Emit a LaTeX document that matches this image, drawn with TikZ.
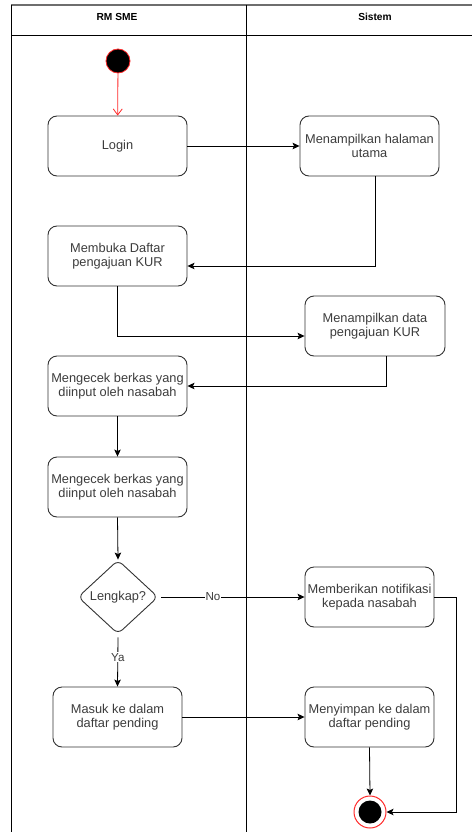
\documentclass[tikz,border=0pt]{standalone}
\usepackage{fontspec}
\setmainfont{Liberation Sans}
\usetikzlibrary{arrows.meta,shapes.geometric,calc}

\definecolor{boxgray}{RGB}{51,51,51}
\definecolor{textgray}{RGB}{60,60,60}
\definecolor{lanegray}{RGB}{110,110,110}
\definecolor{startred}{RGB}{255,40,40}

\begin{document}
\begin{tikzpicture}[x=1pt,y=-1pt,
  act/.style={draw=boxgray, line width=0.9pt, rounded corners=9pt,
    minimum width=139pt, minimum height=60pt, align=center, inner sep=1pt,
    text=textgray, font=\fontsize{12.8}{14.5}\selectfont},
  decide/.style={diamond, draw=boxgray, line width=0.9pt, rounded corners=6pt,
    minimum width=80pt, minimum height=74pt, inner sep=0pt,
    text=textgray, font=\fontsize{12.8}{14.5}\selectfont},
  flow/.style={draw=black, line width=0.8pt,
    -{Stealth[length=7pt,width=6.5pt,inset=1.5pt]}},
  startflow/.style={draw=startred, line width=0.8pt,
    -{Straight Barb[length=6pt,width=9pt]}},
  lanehead/.style={font=\bfseries\fontsize{10.2}{12}\selectfont, text=black},
  flowlabel/.style={fill=white, inner sep=1pt, text=textgray,
    font=\fontsize{11.6}{13}\selectfont}
]
\useasboundingbox (0,0) rectangle (472,832);
\clip (0,0) rectangle (472,832);

% swimlanes
\draw[lanegray, line width=1.6pt] (11,5) -- (472,5);
\draw[black, line width=1pt] (11,5) -- (11,832);
\draw[black, line width=1pt] (246,5) -- (246,832);
\draw[black, line width=1pt] (11,36) -- (472,36);
\node[lanehead] (laneA) at (117,17) {RM SME};
\node[lanehead] (laneB) at (375,17) {Sistem};

% activities
\node[circle, draw=startred, fill=black, line width=0.8pt, minimum size=24pt, inner sep=0pt] (start) at (118,61) {};
\node[act] (login) at (117.5,146) {Login};
\node[act] (halaman) at (369.5,146) {Menampilkan halaman\\utama};
\node[act] (membuka) at (117.5,256) {Membuka Daftar\\pengajuan KUR};
\node[act, minimum width=140pt] (data) at (375,326) {Menampilkan data\\pengajuan KUR};
\node[act] (cek1) at (117.5,386) {Mengecek berkas yang\\diinput oleh nasabah};
\node[act] (cek2) at (117.5,487) {Mengecek berkas yang\\diinput oleh nasabah};
\node[decide] (lengkap) at (118,597) {Lengkap?};
\node[act, minimum width=129pt] (notif) at (369.5,597) {Memberikan notifikasi\\kepada nasabah};
\node[act, minimum width=129pt] (masuk) at (117.5,717) {Masuk ke dalam\\daftar pending};
\node[act, minimum width=129pt] (simpan) at (369.5,717) {Menyimpan ke dalam\\daftar pending};
\node[circle, draw=startred, fill=white, line width=1pt, minimum size=32pt, inner sep=0pt] (end) at (370,812) {};
\node[circle, fill=black, minimum size=23pt, inner sep=0pt] (endcore) at (end.center) {};

% connectors
\draw[startflow] (start) -- (login);
\draw[flow] (login.east) -- (halaman.west);
\draw[flow] ($(halaman.south)+(5.5,0)$) |- ($(membuka.east)+(0,10)$);
\draw[flow] (membuka.south) |- ($(data.west)+(0,10)$);
\draw[flow] ($(data.south)+(11,0)$) |- (cek1.east);
\draw[flow] (cek1.south) -- (cek2.north);
\draw[flow] (cek2.south) -- (lengkap.north);
\draw[flow] ($(lengkap.east)+(3,0)$) -- node[flowlabel, pos=0.36] {No} (notif.west);
\draw[flow] ($(lengkap.south)+(0,3)$) -- node[flowlabel, pos=0.4] {Ya} (masuk.north);
\draw[flow] (masuk.east) -- (simpan.west);
\draw[flow] (simpan.south) -- (end.north);
\draw[flow] (notif.east) -- ++(22,0) |- (end.east);
\end{tikzpicture}
\end{document}
